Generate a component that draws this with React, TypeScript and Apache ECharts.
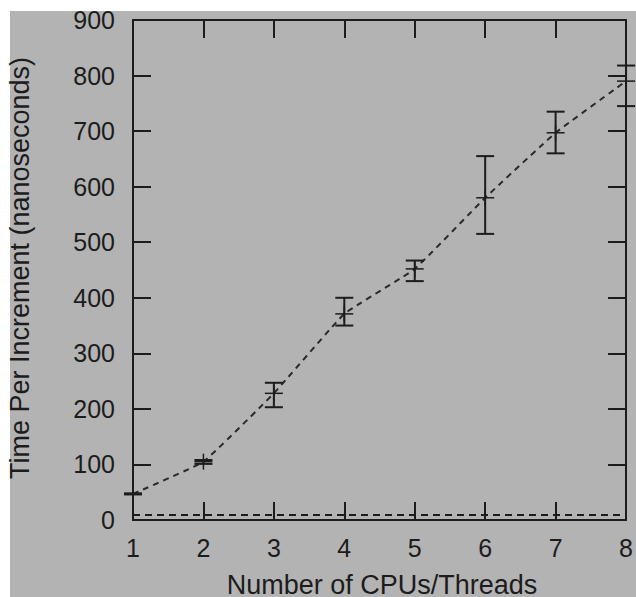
import React, { useEffect, useRef } from "react";
import * as echarts from "echarts";

const cpus = [1, 2, 3, 4, 5, 6, 7, 8];
const meanNs = [47, 105, 228, 371, 452, 580, 697, 790];
const lowNs = [46, 101, 203, 350, 430, 515, 660, 745];
const highNs = [48, 108, 247, 400, 467, 655, 735, 818];
const baselineNs = [9, 9, 9, 9, 9, 9, 9, 9];

const xTitle = "Number of CPUs/Threads";
const yTitle = "Time Per Increment (nanoseconds)";

const INK = "#1c1c1c";
const FONT = "'Liberation Sans', Arial, Helvetica, sans-serif";

export default function App() {
  const ref = useRef<HTMLDivElement>(null);
  useEffect(() => {
    if (!ref.current) return;
    const chart = echarts.init(ref.current, null, { renderer: "svg" });
    const axisCommon = {
      type: "value" as const,
      axisLine: { show: true, onZero: false, lineStyle: { color: INK, width: 2 } },
      axisTick: { show: true, inside: true, length: 18, lineStyle: { color: INK, width: 2 } },
      splitLine: { show: false },
    };
    const labelStyle = { color: INK, fontSize: 25, fontFamily: FONT };
    chart.setOption({
      animation: false,
      backgroundColor: "#ffffff",
      grid: { left: 133, right: 6, top: 20, bottom: 77, containLabel: false },
      xAxis: [
        { ...axisCommon, position: "bottom", min: 1, max: 8, interval: 1, axisLabel: { ...labelStyle, margin: 15 } },
        { ...axisCommon, position: "top", min: 1, max: 8, interval: 1, axisLabel: { show: false } },
      ],
      yAxis: [
        { ...axisCommon, position: "left", min: 0, max: 900, interval: 100, axisLabel: { ...labelStyle, margin: 18 } },
        { ...axisCommon, position: "right", min: 0, max: 900, interval: 100, axisLabel: { show: false } },
      ],
      graphic: [
        {
          type: "rect",
          z: -100,
          silent: true,
          shape: { x: 10, y: 11, width: 626, height: 586 },
          style: { fill: "#b3b3b3" },
        },
        {
          type: "text",
          x: 382,
          y: 585,
          style: { text: xTitle, fill: INK, fontSize: 27, fontFamily: FONT, align: "center", verticalAlign: "middle" },
        },
        {
          type: "text",
          x: 20,
          y: 268,
          rotation: Math.PI / 2,
          style: { text: yTitle, fill: INK, fontSize: 27, fontFamily: FONT, align: "center", verticalAlign: "middle" },
        },
      ],
      series: [
        {
          type: "line",
          xAxisIndex: 0,
          yAxisIndex: 0,
          data: cpus.map((c, i) => [c, baselineNs[i]]),
          symbol: "none",
          lineStyle: { color: INK, width: 2, type: [7, 5] },
          z: 3,
        },
        {
          type: "line",
          xAxisIndex: 0,
          yAxisIndex: 0,
          data: cpus.map((c, i) => [c, meanNs[i]]),
          symbol: "none",
          smooth: 0.1,
          lineStyle: { color: "#2a2a2a", width: 2, type: [6, 5] },
          z: 3,
        },
        {
          type: "custom",
          xAxisIndex: 0,
          yAxisIndex: 0,
          clip: false,
          data: cpus.map((c, i) => [c, lowNs[i], highNs[i], meanNs[i]]),
          renderItem: (params: any, api: any) => {
            const x = api.value(0);
            const pLo = api.coord([x, api.value(1)]);
            const pHi = api.coord([x, api.value(2)]);
            const pM = api.coord([x, api.value(3)]);
            const cap = 9;
            const st = { stroke: INK, lineWidth: 2 };
            return {
              type: "group",
              children: [
                { type: "line", shape: { x1: pLo[0], y1: pLo[1], x2: pHi[0], y2: pHi[1] }, style: st },
                { type: "line", shape: { x1: pLo[0] - cap, y1: pLo[1], x2: pLo[0] + cap, y2: pLo[1] }, style: st },
                { type: "line", shape: { x1: pHi[0] - cap, y1: pHi[1], x2: pHi[0] + cap, y2: pHi[1] }, style: st },
                { type: "line", shape: { x1: pM[0] - cap, y1: pM[1], x2: pM[0] + cap, y2: pM[1] }, style: { stroke: INK, lineWidth: 1.5 } },
                { type: "line", shape: { x1: pM[0], y1: pM[1] - 8, x2: pM[0], y2: pM[1] + 8 }, style: { stroke: INK, lineWidth: 1.5 } },
              ],
            };
          },
          z: 4,
        },
      ],
    });
    return () => chart.dispose();
  }, []);
  return (
    <div
      ref={ref}
      style={{ position: "fixed", left: 0, top: 0, width: 636, height: 597 }}
    />
  );
}
